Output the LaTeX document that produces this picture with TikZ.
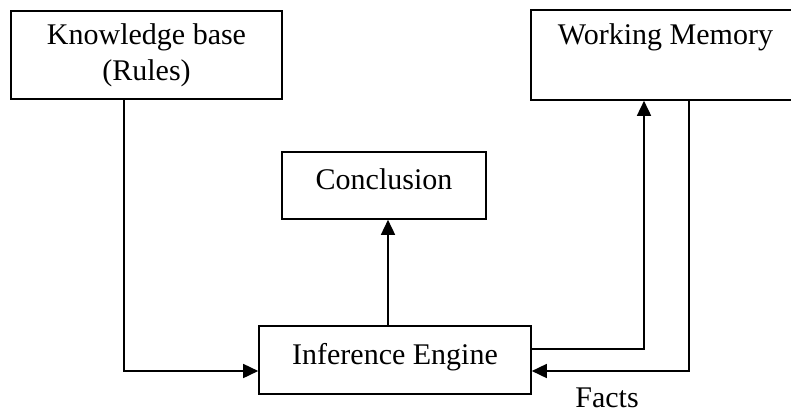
\documentclass[tikz,border=0pt]{standalone}
\usepackage{fontspec}
\setmainfont{Liberation Serif}
\usetikzlibrary{arrows.meta}
\begin{document}
\begin{tikzpicture}[x=1pt,y=-1pt,
  every node/.style={font=\fontsize{30}{36}\selectfont},
  box/.style={draw,line width=1.6pt,inner sep=0pt,align=center},
  onebox/.style={box,text height=20pt,text depth=11.5pt},
  arr/.style={line width=1.6pt,-{Triangle[length=15pt,width=14pt]}}]
\useasboundingbox (0,0) rectangle (791,413);
\node[box,minimum width=271pt,minimum height=88pt] (kb) at (146.5,55) {Knowledge base\\(Rules)};
\node[box,minimum width=269pt,minimum height=90pt] (wm) at (665.5,55) {Working Memory\\[5pt]\mbox{}};
\node[onebox,minimum width=204pt,minimum height=67pt] (conc) at (384,185.5) {Conclusion};
\node[onebox,minimum width=272pt,minimum height=68pt] (ie) at (395,360) {Inference Engine};
\node[anchor=base] (facts) at (607,407) {Facts};
\draw[arr] ([xshift=-22.5pt]kb.south) |- ([yshift=-11pt]ie.west);
\draw[arr] ([xshift=-7pt]ie.north) -- ([xshift=-7pt]ie.north |- conc.south);
\draw[arr] ([yshift=11pt]ie.east) -| ([xshift=-21.5pt]wm.south);
\draw[arr] ([xshift=23.5pt]wm.south) |- ([yshift=-11pt]ie.east);
\end{tikzpicture}
\end{document}
